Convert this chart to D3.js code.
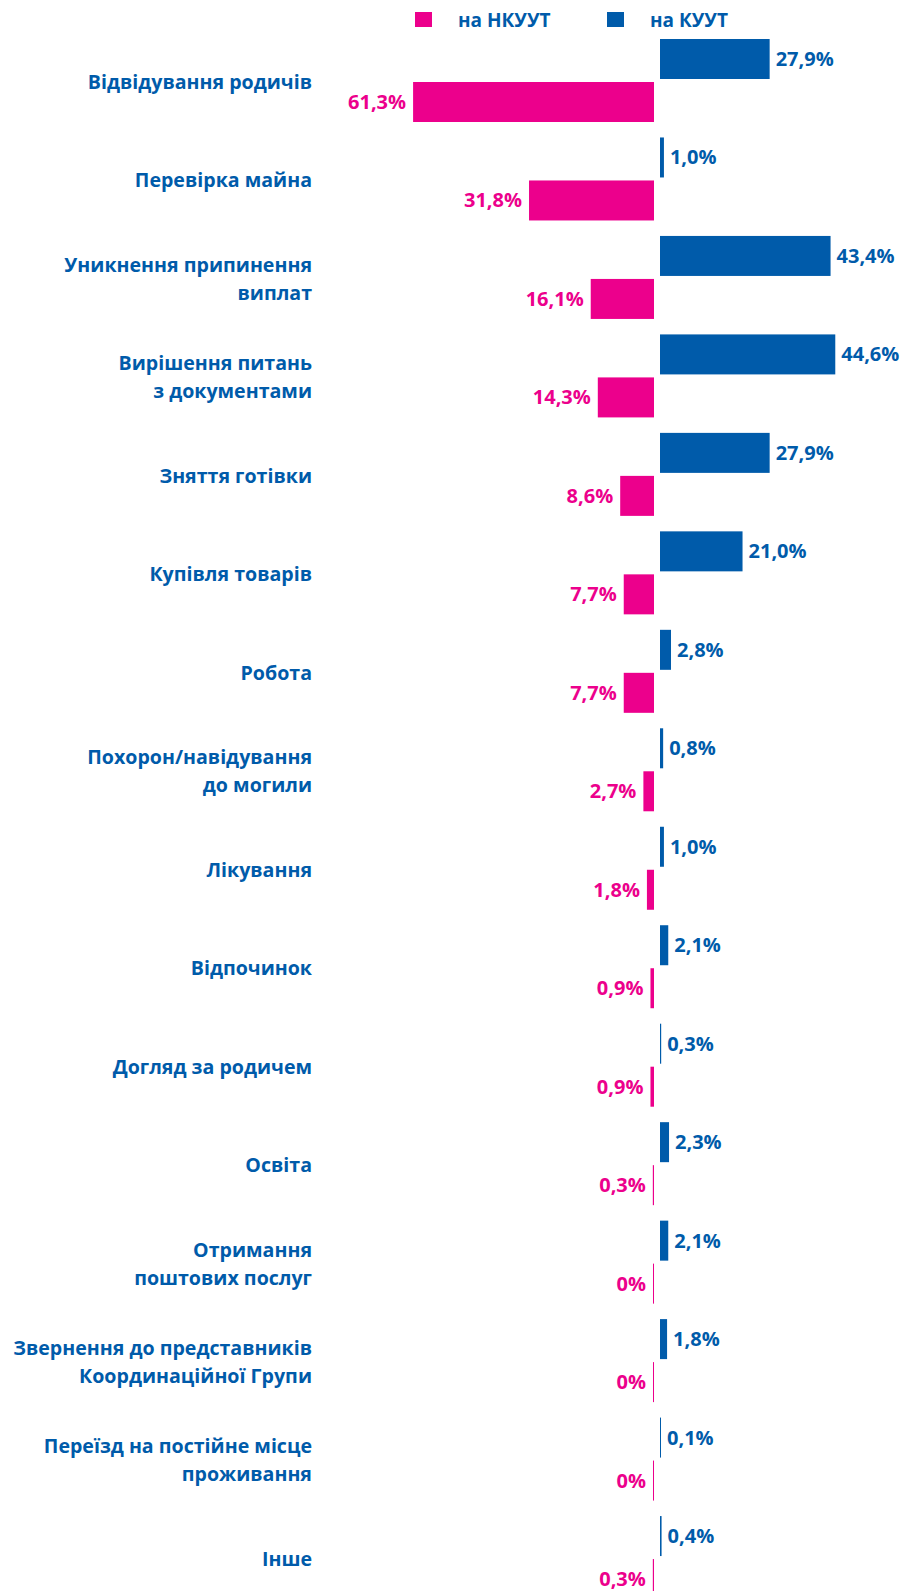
<!DOCTYPE html>
<html>
<head>
<meta charset="utf-8">
<script src="https://cdn.jsdelivr.net/npm/d3@7"></script>
<style>
  body { margin: 0; background: #fff; }
  text { font-family: "Open Sans", sans-serif; font-weight: bold; }
</style>
</head>
<body>
<script>
// categories (multi-line labels split by "|")
var categories = [
    "Відвідування родичів",
    "Перевірка майна",
    "Уникнення припинення|виплат",
    "Вирішення питань|з документами",
    "Зняття готівки",
    "Купівля товарів",
    "Робота",
    "Похорон/навідування|до могили",
    "Лікування",
    "Відпочинок",
    "Догляд за родичем",
    "Освіта",
    "Отримання|поштових послуг",
    "Звернення до представників|Координаційної Групи",
    "Переїзд на постійне місце|проживання",
    "Інше"
];
var kuut  = [27.9, 1.0, 43.4, 44.6, 27.9, 21.0, 2.8, 0.8, 1.0, 2.1, 0.3, 2.3, 2.1, 1.8, 0.1, 0.4];
var nkuut = [61.3, 31.8, 16.1, 14.3, 8.6, 7.7, 7.7, 2.7, 1.8, 0.9, 0.9, 0.3, 0, 0, 0, 0.3];
var seriesNames = ["на НКУУТ", "на КУУТ"];

var width = 922,
    height = 1591,
    pink = "#EC008C",
    blue = "#005BAA";

var fmt = function (v) { return v === 0 ? "0%" : d3.format(".1f")(v).replace(".", ",") + "%"; };

var svg = d3.select("body")
            .append("svg")
            .attr("width", width)
            .attr("height", height);

var yScale = d3.scaleBand()
                .domain(categories)
                .range([39, 39 + 16 * 98.47]);

// 3.93 px per percent on both sides
var xBlue = d3.scaleLinear().domain([0, 50]).range([660, 660 + 196.5]);
var xPink = d3.scaleLinear().domain([0, 70]).range([654, 654 - 275.1]);

var rows = categories.map(function (c, i) {
    return { cat: c, k: kuut[i], n: nkuut[i] };
});

var g = svg.append("g");

// blue bars
g.selectAll("rect.kuut")
    .data(rows)
    .enter()
    .append("rect")
    .attr("class", "kuut")
    .attr("x", xBlue(0))
    .attr("y", function (d) { return yScale(d.cat); })
    .attr("width", function (d) { return Math.max(1, xBlue(d.k) - xBlue(0)); })
    .attr("height", 40)
    .style("fill", blue);

g.selectAll("text.kuut")
    .data(rows)
    .enter()
    .append("text")
    .attr("class", "kuut")
    .attr("x", function (d) { return Math.max(xBlue(0) + 1, xBlue(d.k)) + 6; })
    .attr("y", function (d) { return yScale(d.cat) + 20; })
    .attr("dy", "0.35em")
    .attr("font-size", 20)
    .style("fill", blue)
    .text(function (d) { return fmt(d.k); });

// pink bars
g.selectAll("rect.nkuut")
    .data(rows)
    .enter()
    .append("rect")
    .attr("class", "nkuut")
    .attr("x", function (d) { return Math.min(xPink(0) - 1, xPink(d.n)); })
    .attr("y", function (d) { return yScale(d.cat) + 43; })
    .attr("width", function (d) { return Math.max(1, xPink(0) - xPink(d.n)); })
    .attr("height", 40)
    .style("fill", pink);

g.selectAll("text.nkuut")
    .data(rows)
    .enter()
    .append("text")
    .attr("class", "nkuut")
    .attr("x", function (d) { return Math.min(xPink(0) - 1, xPink(d.n)) - 7; })
    .attr("y", function (d) { return yScale(d.cat) + 63; })
    .attr("dy", "0.35em")
    .attr("text-anchor", "end")
    .attr("font-size", 20)
    .style("fill", pink)
    .text(function (d) { return fmt(d.n); });

// category labels
var labels = g.selectAll("text.cat")
    .data(rows)
    .enter()
    .append("text")
    .attr("class", "cat")
    .attr("text-anchor", "end")
    .attr("font-size", 19.6)
    .style("fill", blue);

labels.each(function (d) {
    var lines = d.cat.split("|");
    var lh = 28;
    var cy = yScale(d.cat) + 43;
    var t = d3.select(this);
    lines.forEach(function (line, j) {
        t.append("tspan")
            .attr("x", 312)
            .attr("y", cy + (j - (lines.length - 1) / 2) * lh)
            .attr("dy", "0.35em")
            .text(line);
    });
});

// legend
var legend = svg.append("g");
var legendX = [415, 607];
var legendColors = [pink, blue];
seriesNames.forEach(function (name, i) {
    legend.append("rect")
        .attr("x", legendX[i])
        .attr("y", 12)
        .attr("width", 17)
        .attr("height", 15)
        .style("fill", legendColors[i]);
    legend.append("text")
        .attr("x", legendX[i] + 43)
        .attr("y", 20)
        .attr("dy", "0.35em")
        .attr("font-size", 19)
        .style("fill", blue)
        .text(name);
});
</script>
</body>
</html>
